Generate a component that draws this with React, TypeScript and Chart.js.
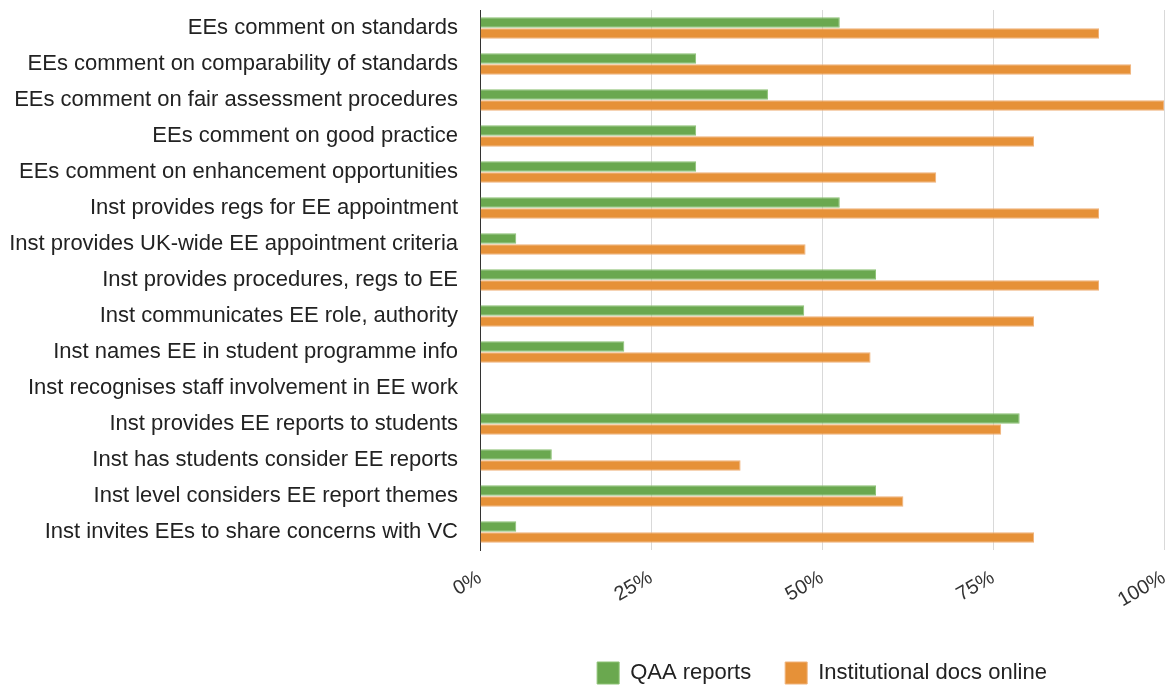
import React, { useEffect, useRef } from "react";
import { Chart, registerables } from "chart.js";

Chart.register(...registerables);

const categories = [
  "EEs comment on standards",
  "EEs comment on comparability of standards",
  "EEs comment on fair assessment procedures",
  "EEs comment on good practice",
  "EEs comment on enhancement opportunities",
  "Inst provides regs for EE appointment",
  "Inst provides UK-wide EE appointment criteria",
  "Inst provides procedures, regs to EE",
  "Inst communicates EE role, authority",
  "Inst names EE in student programme info",
  "Inst recognises staff involvement in EE work",
  "Inst provides EE reports to students",
  "Inst has students consider EE reports",
  "Inst level considers EE report themes",
  "Inst invites EEs to share concerns with VC",
];

const qaaReports = [52.6, 31.6, 42.1, 31.6, 31.6, 52.6, 5.3, 57.9, 47.4, 21.1, 0, 78.9, 10.5, 57.9, 5.3];
const institutionalDocs = [90.5, 95.2, 100, 81.0, 66.7, 90.5, 47.6, 90.5, 81.0, 57.1, 0, 76.2, 38.1, 61.9, 81.0];

const seriesNames = ["QAA reports", "Institutional docs online"];
const xTicks = [0, 25, 50, 75, 100];

const FONT = "'Liberation Sans', Arial, sans-serif";

const zeroPad = (scale: any) => {
  scale.paddingTop = 0;
  scale.paddingBottom = 0;
  scale.paddingLeft = 0;
  scale.paddingRight = 0;
};

export default function App() {
  const ref = useRef<HTMLCanvasElement | null>(null);

  useEffect(() => {
    if (!ref.current) return;
    const chart = new Chart(ref.current, {
      type: "bar",
      data: {
        labels: categories,
        datasets: [
          {
            label: seriesNames[0],
            data: qaaReports,
            backgroundColor: "#6aa84f",
            borderColor: "#8cc274",
            borderWidth: 1,
            categoryPercentage: 0.62,
            barPercentage: 0.94,
          },
          {
            label: seriesNames[1],
            data: institutionalDocs,
            backgroundColor: "#e69138",
            borderColor: "#f0b27a",
            borderWidth: 1,
            categoryPercentage: 0.62,
            barPercentage: 0.94,
          },
        ],
      },
      options: {
        indexAxis: "y",
        animation: false,
        responsive: true,
        maintainAspectRatio: false,
        layout: { padding: { top: 10, right: 12, left: 0, bottom: 0 } },
        plugins: {
          tooltip: { enabled: false },
          legend: {
            position: "bottom",
            fullSize: false,
            maxHeight: 58,
            labels: {
              font: { family: FONT, size: 22 },
              color: "#222",
              boxWidth: 22,
              boxHeight: 22,
              padding: 34,
            },
          },
        },
        scales: {
          x: {
            min: 0,
            max: 100,
            afterBuildTicks: (scale: any) => {
              scale.ticks = xTicks.map((v) => ({ value: v }));
            },
            afterFit: (scale: any) => {
              scale.height = 78;
              zeroPad(scale);
            },
            grid: { color: "#d9d9d9", drawTicks: false },
            border: { display: false },
            ticks: {
              font: { family: FONT, size: 20 },
              color: "#333",
              minRotation: 30,
              maxRotation: 30,
              padding: 16,
              callback: (v: any) => v + "%",
            },
          },
          y: {
            afterFit: (scale: any) => {
              scale.width = 480;
              zeroPad(scale);
            },
            grid: { display: false, drawTicks: false },
            border: { display: true, color: "#333", width: 1 },
            ticks: {
              font: { family: FONT, size: 22 },
              color: "#222",
              padding: 22,
            },
          },
        },
      },
    });
    return () => chart.destroy();
  }, []);

  return (
    <div style={{ position: "absolute", left: 0, top: 0, width: 1176, height: 686 }}>
      <canvas ref={ref} />
    </div>
  );
}
